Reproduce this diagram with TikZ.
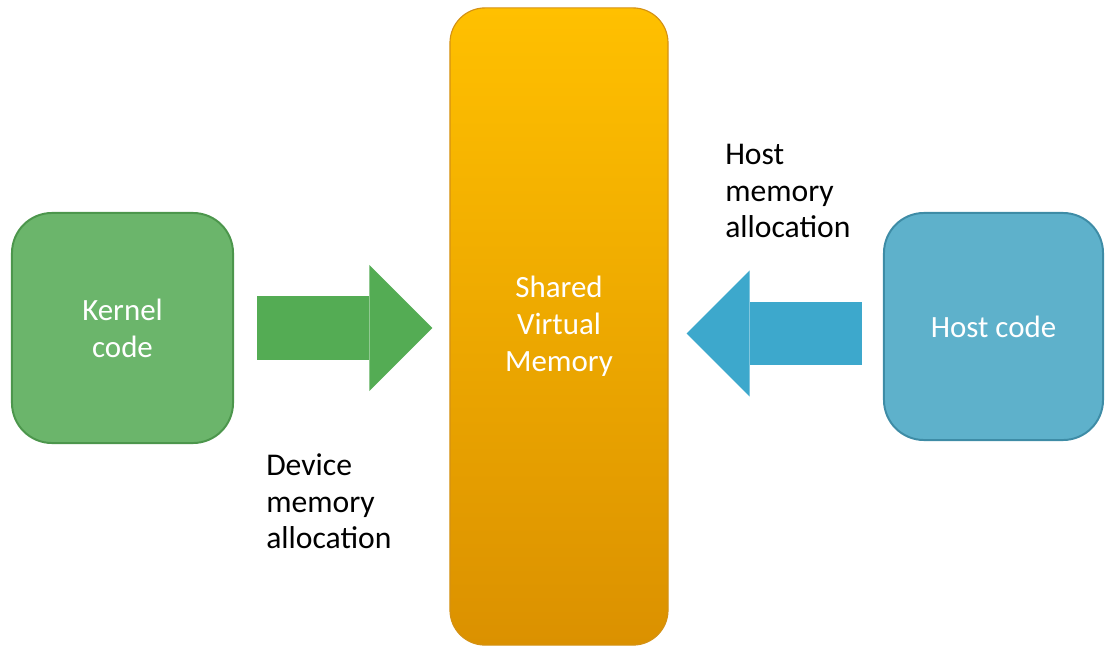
\documentclass[tikz,border=0pt]{standalone}
\usepackage{fontspec}
\setmainfont{Carlito}
\usetikzlibrary{arrows.meta}
\definecolor{kernelfill}{RGB}{107,181,107}
\definecolor{kernelborder}{RGB}{76,150,76}
\definecolor{arrowgreen}{RGB}{84,172,84}
\definecolor{memtop}{RGB}{255,192,0}
\definecolor{membottom}{RGB}{219,145,0}
\definecolor{memborder}{RGB}{212,145,20}
\definecolor{hostfill}{RGB}{94,177,203}
\definecolor{hostborder}{RGB}{62,140,166}
\definecolor{arrowblue}{RGB}{61,168,204}

\begin{document}
\begin{tikzpicture}[x=0.025cm, y=-0.025cm,
		codebox/.style={rounded corners=1cm, line width=1.4pt, text=white, align=center, inner sep=0pt, font=\fontsize{22}{26.3}\selectfont},
		legende/.style={align=left, inner sep=0pt, font=\fontsize{22.5}{26.3}\selectfont},
		fleche/.style={line width=1.575cm, -{Triangle[length=1.575cm, width=3.15cm, line width=0pt]}}]

		\useasboundingbox (0,0) rectangle (1107,648);
		\node [codebox, fill=kernelfill, draw=kernelborder, minimum width=5.525cm, minimum height=5.75cm] (kernel) at (122.5,328) {Kernel\\code};
		\node [codebox, top color=memtop, bottom color=membottom, draw=memborder, line width=0.8pt, rounded corners=0.875cm, minimum width=5.45cm, minimum height=15.925cm] (memory) at (559,326.5) {Shared\\Virtual\\Memory};
		\node [codebox, fill=hostfill, draw=hostborder, minimum width=5.475cm, minimum height=5.675cm] (host) at (993.5,326.5) {Host code};
		\draw [fleche, color=arrowgreen, shorten <=0.575cm, shorten >=0.425cm] (kernel.east) -- (kernel.east -| memory.west);
		\coordinate (hostarrow) at ([yshift=-0.175cm]host.west); % un peu plus bas que le centre
		\draw [fleche, color=arrowblue, shorten <=0.525cm, shorten >=0.45cm] (hostarrow) -- (hostarrow -| memory.east);
		\node [legende, anchor=base west] (devicetext) at (266,549) {Device\\memory\\allocation};
		\node [legende, anchor=base west] (hosttext) at (725,238) {Host\\memory\\allocation};
\end{tikzpicture}
\end{document}
